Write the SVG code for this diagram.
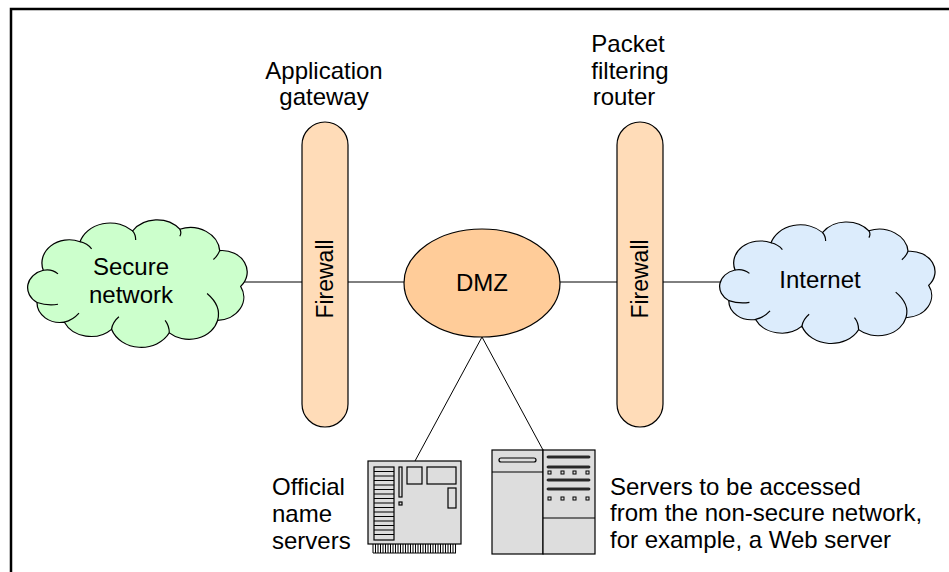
<svg xmlns="http://www.w3.org/2000/svg" width="949" height="572" viewBox="0 0 949 572">
  <style>
    text { font-family: "Liberation Sans", Arial, sans-serif; font-size: 24px; fill: #000; }
    .mid { text-anchor: middle; }
    .fwt { font-size: 23px; }
    .edge { stroke: #000; stroke-width: 1; fill: none; }
    .cloud { stroke: #000; stroke-width: 1.2; vector-effect: non-scaling-stroke; }
    .mark { stroke: #000; stroke-width: 1.2; fill: none; vector-effect: non-scaling-stroke; }
    .fw { fill: #ffdcb8; stroke: #000; stroke-width: 1.2; }
    .hw { fill: #dddddd; stroke: #000; stroke-width: 1.2; }
    .hwl { stroke: #000; stroke-width: 1.2; fill: none; }
  </style>
  <defs>
    <path id="cloudShape" d="M 20,52 A 26,26 0 0 1 55,20 A 30,30 0 0 1 105,8 A 28,28 0 0 1 150,6 A 28,28 0 0 1 188,30 A 24,24 0 0 1 208,70 A 26,26 0 0 1 186,108 A 28,28 0 0 1 140,122 A 30,30 0 0 1 85,118 A 28,28 0 0 1 40,110 A 22,22 0 0 1 14,88 A 20,20 0 0 1 20,52 Z"/>
    <g id="cloudMarks">
      <path class="mark" d="M 20,52 Q 28,50 34,56"/>
      <path class="mark" d="M 55,20 Q 62,22 66,28"/>
      <path class="mark" d="M 105,8 Q 108,12 108,18"/>
      <path class="mark" d="M 150,6 Q 152,10 150,14"/>
      <path class="mark" d="M 188,30 Q 186,36 182,40"/>
      <path class="mark" d="M 186,108 Q 190,92 176,78"/>
      <path class="mark" d="M 140,122 Q 140,114 136,108"/>
      <path class="mark" d="M 85,118 Q 86,110 92,104"/>
      <path class="mark" d="M 40,110 Q 48,108 54,100"/>
      <path class="mark" d="M 14,88 Q 24,92 34,90"/>
    </g>
  </defs>

  <!-- frame -->
  <path d="M 11,572 V 9 H 949" fill="none" stroke="#000" stroke-width="2.5"/>

  <!-- connectors -->
  <g id="connectors">
    <line class="edge" x1="240" y1="282" x2="302" y2="282"/>
    <line class="edge" x1="348" y1="282" x2="404" y2="282"/>
    <line class="edge" x1="560" y1="282" x2="617" y2="282"/>
    <line class="edge" x1="663" y1="282" x2="724" y2="282"/>
    <line class="edge" x1="482" y1="337" x2="415" y2="461"/>
    <line class="edge" x1="482" y1="337" x2="543" y2="450"/>
  </g>

  <!-- secure network -->
  <g id="secure-network">
    <g transform="translate(22.3,223.8) scale(1.05,0.894)">
      <use href="#cloudShape" class="cloud" fill="#ccffcc"/>
      <use href="#cloudMarks"/>
    </g>
    <text class="mid" x="131" y="275">Secure</text>
    <text class="mid" x="131" y="303">network</text>
  </g>

  <!-- application gateway firewall -->
  <g id="firewall-gateway">
    <rect class="fw" x="302" y="122" width="46" height="305" rx="23" ry="23"/>
    <text class="mid fwt" transform="translate(333,279) rotate(-90)">Firewall</text>
    <text class="mid" x="324" y="79">Application</text>
    <text class="mid" x="324" y="105">gateway</text>
  </g>

  <!-- DMZ -->
  <g id="dmz">
    <ellipse cx="482" cy="283" rx="78" ry="54" fill="#ffcc99" stroke="#000" stroke-width="1.2"/>
    <text class="mid" x="482" y="291">DMZ</text>
  </g>

  <!-- packet filtering router firewall -->
  <g id="firewall-router">
    <rect class="fw" x="617" y="122" width="46" height="305" rx="23" ry="23"/>
    <text class="mid fwt" transform="translate(648,279) rotate(-90)">Firewall</text>
    <text class="mid" x="628" y="52">Packet</text>
    <text class="mid" x="630" y="79">filtering</text>
    <text class="mid" x="624" y="105">router</text>
  </g>

  <!-- internet -->
  <g id="internet">
    <g transform="translate(714.4,225.7) scale(1.03,0.852)">
      <use href="#cloudShape" class="cloud" fill="#dcecfc"/>
      <use href="#cloudMarks"/>
    </g>
    <text class="mid" x="820" y="288">Internet</text>
  </g>

  <!-- official name servers (board) -->
  <g id="name-servers">
    <g stroke="#000" stroke-width="1">
      <path d="M 373,544 V 553 M 375.5,544 V 553 M 378,544 V 553 M 380.5,544 V 553 M 383,544 V 553 M 385.5,544 V 553 M 388,544 V 553 M 390.5,544 V 553 M 393,544 V 553 M 395.5,544 V 553 M 398,544 V 553 M 400.5,544 V 553 M 403,544 V 553 M 405.5,544 V 553 M 408,544 V 553 M 410.5,544 V 553 M 413,544 V 553 M 415.5,544 V 553 M 418,544 V 553 M 420.5,544 V 553 M 423,544 V 553 M 425.5,544 V 553 M 428,544 V 553 M 430.5,544 V 553 M 433,544 V 553 M 435.5,544 V 553 M 438,544 V 553 M 440.5,544 V 553 M 443,544 V 553 M 445.5,544 V 553 M 448,544 V 553 M 450.5,544 V 553 M 453,544 V 553 M 455.5,544 V 553"/>
      <line x1="373" y1="553" x2="456" y2="553"/>
    </g>
    <rect class="hw" x="368" y="461" width="93" height="83"/>
    <rect class="hw" x="374" y="467" width="20" height="73"/>
    <path class="hwl" d="M 374,471.5 H 394 M 374,476 H 394 M 374,480.5 H 394 M 374,485 H 394 M 374,489.5 H 394 M 374,494 H 394 M 374,498.5 H 394 M 374,503 H 394 M 374,507.5 H 394 M 374,512 H 394 M 374,516.5 H 394 M 374,521 H 394 M 374,525.5 H 394 M 374,530 H 394 M 374,534.5 H 394"/>
    <rect class="hw" x="399" y="467" width="3" height="30"/>
    <rect class="hw" x="399" y="502" width="3" height="3"/>
    <rect class="hw" x="407" y="467" width="15" height="17"/>
    <rect class="hw" x="427" y="467" width="29" height="17"/>
    <rect class="hw" x="448" y="488" width="8" height="20"/>
    <text x="272" y="495">Official</text>
    <text x="272" y="522">name</text>
    <text x="272" y="549">servers</text>
  </g>

  <!-- web server (tower) -->
  <g id="web-server">
    <rect class="hw" x="492" y="450" width="51" height="104"/>
    <line class="hwl" x1="492" y1="472" x2="543" y2="472"/>
    <rect class="hw" x="499" y="458" width="37" height="4" rx="2"/>
    <rect class="hw" x="543" y="450" width="52" height="104"/>
    <line class="hwl" x1="543" y1="518" x2="595" y2="518"/>
    <g fill="#444" stroke="#000" stroke-width="0.8">
      <rect x="547" y="456" width="43" height="2" rx="1"/>
      <rect x="547" y="466" width="43" height="2" rx="1"/>
      <rect x="547" y="479" width="43" height="2" rx="1"/>
      <rect x="547" y="488" width="43" height="2" rx="1"/>
    </g>
    <g fill="#dddddd" stroke="#000" stroke-width="1">
      <rect x="548" y="471" width="3" height="3"/>
      <rect x="561" y="471" width="3" height="3"/>
      <rect x="573" y="471" width="3" height="3"/>
      <rect x="586" y="471" width="3" height="3"/>
      <rect x="548" y="497" width="3" height="3"/>
      <rect x="561" y="497" width="3" height="3"/>
      <rect x="573" y="497" width="3" height="3"/>
      <rect x="586" y="497" width="3" height="3"/>
    </g>
    <text x="610" y="495">Servers to be accessed</text>
    <text x="610" y="521">from the non-secure network,</text>
    <text x="610" y="548">for example, a Web server</text>
  </g>
</svg>
